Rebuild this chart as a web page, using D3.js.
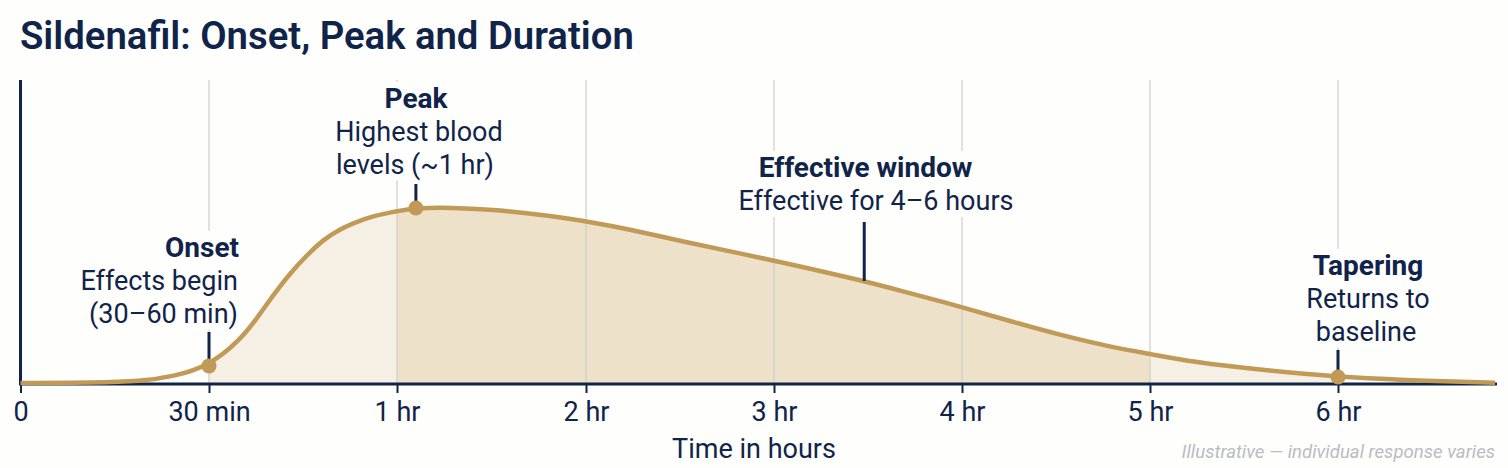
<!DOCTYPE html>
<html><head><meta charset="utf-8">
<script src="https://cdnjs.cloudflare.com/ajax/libs/d3/7.8.5/d3.min.js"></script>
<style>html,body{margin:0;padding:0;background:#fefefd}svg{display:block}text{font-family:Roboto,sans-serif;fill:#10244a}</style>
</head><body><svg id="c" width="1508" height="468"></svg>
<script>
const tickHours=[0,0.5,1,2,3,4,5,6];
const tickLabels=["0","30 min","1 hr","2 hr","3 hr","4 hr","5 hr","6 hr"];
const curveHours=[0,0.2,0.317,0.405,0.5,0.583,0.628,0.671,0.716,0.761,0.803,0.848,0.893,0.936,1,1.1,1.28,1.55,1.81,2,2.25,2.52,2.78,3,3.48,3.72,4,4.26,4.52,4.79,5,5.23,5.59,6,6.33,6.83];
const curveLevels=[0,0.2,0.9,3.6,9.7,24.4,36.9,50,62.5,72.7,81.3,87.5,91.5,94.9,97.7,99.4,99.8,98.3,94.9,92,86.9,80.3,74.5,69.6,58,51.1,43.2,35,27.3,20.5,16.5,11.9,7.4,3.4,1.7,0.2];
const bandStart=[0.5,1,5];
const bandEnd=[1,5,6];
const bandFill=["#f6efe3","#ede1c9","#f6efe3"];
const noteHours=[0.5,1.1,3.48,6];
const noteTitles=["Onset","Peak","Effective window","Tapering"];
const noteLines=[["Effects begin","(30–60 min)"],["Highest blood","levels (~1 hr)"],["Effective for 4–6 hours"],["Returns to","baseline"]];
const noteAnchor=["end","middle","middle","middle"];
const noteTitleX=[239,416,865.5,1368];
const noteLineX=[[238,238],[419,415],[876],[1368,1366]];
const noteTitleY=[257,108,177,275];
const noteStemTop=[332,184,222,350];
const dotHours=[0.5,1.1,6];

const navy="#10244a",gold="#c09a56";
const x=d3.scaleLinear().domain([0,0.5,1,2,3,4,5,6,6.83]).range([20.5,209,397,586,774,962,1150,1338,1495]);
const y=d3.scaleLinear().domain([0,100]).range([383,207]);
const svg=d3.select("#c");
const data=curveHours.map((h,i)=>({h,v:curveLevels[i]}));
const curve=d3.curveBasis;
const levelAt=h=>curveLevels[curveHours.indexOf(h)];

svg.append("text").attr("x",20).attr("y",49).attr("font-size",38.3).attr("font-weight",600).text("Sildenafil: Onset, Peak and Duration");

const defs=svg.append("defs");
bandStart.forEach((s,i)=>{
  defs.append("clipPath").attr("id","b"+i).append("rect").attr("x",x(s)).attr("y",80).attr("width",x(bandEnd[i])-x(s)).attr("height",304);
  svg.append("path").attr("clip-path",`url(#b${i})`).attr("fill",bandFill[i])
    .attr("d",d3.area().x(d=>x(d.h)).y0(y(0)).y1(d=>y(d.v)).curve(curve)(data));
});
svg.append("g").selectAll("line").data(tickHours.slice(1)).join("line")
  .attr("x1",d=>x(d)).attr("x2",d=>x(d)).attr("y1",80).attr("y2",383)
  .attr("stroke","#cfcdc9").attr("stroke-width",1.2);

const ax=svg.append("g").attr("transform","translate(0,384)");
ax.call(d3.axisBottom(x).tickValues(tickHours).tickFormat((d,i)=>tickLabels[i]).tickSize(9).tickPadding(9));
ax.select(".domain").remove();
ax.selectAll("line").attr("stroke",navy).attr("stroke-width",2);
ax.selectAll("text").attr("font-size",27).attr("fill",navy).attr("font-family","Roboto,sans-serif");
svg.append("line").attr("x1",x(0)).attr("x2",1497).attr("y1",384).attr("y2",384).attr("stroke",navy).attr("stroke-width",3);
svg.append("line").attr("x1",x(0)).attr("x2",x(0)).attr("y1",80).attr("y2",385.5).attr("stroke",navy).attr("stroke-width",3);

svg.append("path").attr("fill","none").attr("stroke",gold).attr("stroke-width",4.5)
  .attr("d",d3.line().x(d=>x(d.h)).y(d=>y(d.v)).curve(curve)(data));

noteHours.forEach((h,i)=>{
  const g=svg.append("g");
  const bg=g.append("rect").attr("fill","#fefefd");
  const t=g.append("text").attr("text-anchor",noteAnchor[i]);
  t.append("tspan").attr("x",noteTitleX[i]).attr("y",noteTitleY[i]).attr("font-weight",700).attr("font-size",28).text(noteTitles[i]);
  noteLines[i].forEach((l,k)=>t.append("tspan").attr("x",noteLineX[i][k]).attr("y",noteTitleY[i]+33+k*32.5).attr("font-size",27).text(l));
  const b=t.node().getBBox();
  bg.attr("x",b.x-2).attr("y",b.y).attr("width",b.width+4).attr("height",b.height);
  svg.append("line").attr("x1",x(h)).attr("x2",x(h)).attr("y1",noteStemTop[i]).attr("y2",y(levelAt(h)))
    .attr("stroke",navy).attr("stroke-width",3);
});
svg.append("g").selectAll("circle").data(dotHours).join("circle")
  .attr("cx",d=>x(d)).attr("cy",d=>y(levelAt(d))).attr("r",7.5).attr("fill",gold);

svg.append("text").attr("x",754).attr("y",458).attr("text-anchor","middle").attr("font-size",27).text("Time in hours");
svg.append("text").attr("x",1495).attr("y",458).attr("text-anchor","end").attr("font-size",18.6).attr("font-style","italic").style("fill","#b9bcc2").text("Illustrative — individual response varies");
</script></body></html>
